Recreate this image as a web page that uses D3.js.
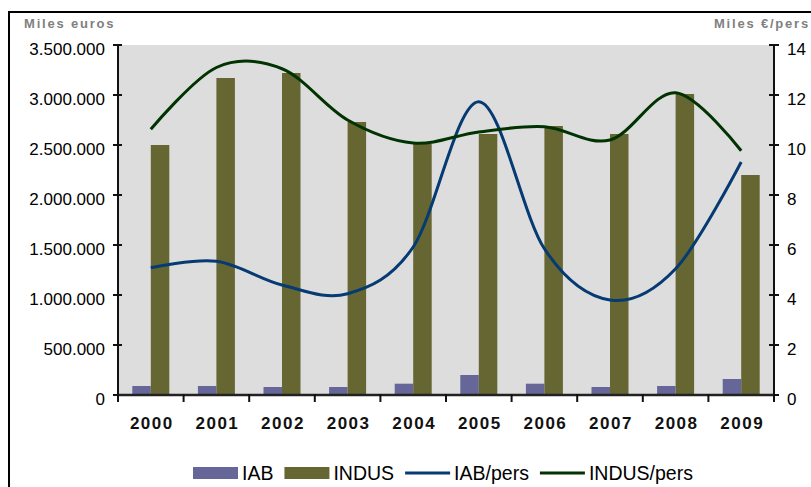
<!DOCTYPE html>
<html>
<head>
<meta charset="utf-8">
<script src="https://cdn.jsdelivr.net/npm/d3@7/dist/d3.min.js"></script>
<style>
  body { margin: 0; background: #fff; }
  svg { display: block; font-family: "Liberation Sans", Arial, sans-serif; }
</style>
</head>
<body>
<div id="chart"></div>
<script>
// data
var years = ["2000", "2001", "2002", "2003", "2004", "2005", "2006", "2007", "2008", "2009"];
var iab = [90000, 90000, 80000, 80000, 113000, 200000, 113000, 80000, 90000, 160000];
var indus = [2500000, 3170000, 3220000, 2730000, 2510000, 2610000, 2690000, 2610000, 3010000, 2200000];
var iabPers = [5.09, 5.35, 4.4, 4.05, 5.92, 11.73, 5.85, 3.8, 5.05, 9.32];
var indusPers = [10.63, 13.1, 13.05, 11.0, 10.08, 10.52, 10.73, 10.2, 12.09, 9.77];
var leftTicks = [0, 500000, 1000000, 1500000, 2000000, 2500000, 3000000, 3500000];
var rightTicks = [0, 2, 4, 6, 8, 10, 12, 14];

var colors = {iab: "#666699", indus: "#666633", iabPers: "#063a72", indusPers: "#003300"};

var W = 811, H = 487;
var margin = {top: 45, right: 37, bottom: 92, left: 118},
    width = W - margin.left - margin.right,
    height = H - margin.top - margin.bottom;

var svg = d3.select("#chart").append("svg")
    .attr("width", W)
    .attr("height", H);

// outer frame (runs off the right/bottom edge)
svg.append("rect")
    .attr("x", 9).attr("y", 12)
    .attr("width", 900).attr("height", 600)
    .attr("fill", "none")
    .attr("stroke", "#000")
    .attr("stroke-width", 2);

var g = svg.append("g")
    .attr("transform", "translate(" + margin.left + "," + margin.top + ")");

g.append("rect")
    .attr("width", width)
    .attr("height", height)
    .attr("fill", "#dddddd");

var x = d3.scaleBand().domain(years).range([0, width]);
var y = d3.scaleLinear().domain([0, 3500000]).range([height, 0]);
var y2 = d3.scaleLinear().domain([0, 14]).range([height, 0]);
var barW = 18.5;

function fmt(v) {
    return d3.format(",")(v).replace(/,/g, ".");
}

// bars
g.selectAll(".bar-iab").data(iab).enter().append("rect")
    .attr("class", "bar-iab")
    .attr("x", function(d, i) { return x(years[i]) + x.bandwidth() / 2 - barW; })
    .attr("width", barW)
    .attr("y", function(d) { return y(d); })
    .attr("height", function(d) { return height - y(d); })
    .attr("fill", colors.iab);

g.selectAll(".bar-indus").data(indus).enter().append("rect")
    .attr("class", "bar-indus")
    .attr("x", function(d, i) { return x(years[i]) + x.bandwidth() / 2; })
    .attr("width", barW)
    .attr("y", function(d) { return y(d); })
    .attr("height", function(d) { return height - y(d); })
    .attr("fill", colors.indus);

// smoothed lines
var line = d3.line()
    .x(function(d, i) { return x(years[i]) + x.bandwidth() / 2; })
    .y(function(d) { return y2(d); })
    .curve(d3.curveCardinal.tension(0));

g.append("path").datum(iabPers)
    .attr("d", line)
    .attr("fill", "none")
    .attr("stroke", colors.iabPers)
    .attr("stroke-width", 3)
    .attr("stroke-linejoin", "round");

g.append("path").datum(indusPers)
    .attr("d", line)
    .attr("fill", "none")
    .attr("stroke", colors.indusPers)
    .attr("stroke-width", 3)
    .attr("stroke-linejoin", "round");

// left axis
var left = g.append("g").attr("class", "axis-left");
left.append("line")
    .attr("x1", 0).attr("x2", 0).attr("y1", 0).attr("y2", height)
    .attr("stroke", "#111").attr("stroke-width", 2);
left.selectAll("line.tick").data(leftTicks).enter().append("line")
    .attr("class", "tick")
    .attr("x1", -5).attr("x2", 4)
    .attr("y1", function(d) { return y(d); })
    .attr("y2", function(d) { return y(d); })
    .attr("stroke", "#111").attr("stroke-width", 2);
left.selectAll("text").data(leftTicks).enter().append("text")
    .attr("x", -13)
    .attr("y", function(d) { return y(d) + 9.5; })
    .attr("text-anchor", "end")
    .attr("font-size", 17)
    .attr("fill", "#000")
    .text(fmt);

// right axis
var right = g.append("g").attr("transform", "translate(" + width + ",0)");
right.append("line")
    .attr("x1", 0).attr("x2", 0).attr("y1", 0).attr("y2", height)
    .attr("stroke", "#111").attr("stroke-width", 2);
right.selectAll("line.tick").data(rightTicks).enter().append("line")
    .attr("class", "tick")
    .attr("x1", -5).attr("x2", 5)
    .attr("y1", function(d) { return y2(d); })
    .attr("y2", function(d) { return y2(d); })
    .attr("stroke", "#111").attr("stroke-width", 2);
right.selectAll("text").data(rightTicks).enter().append("text")
    .attr("x", 13)
    .attr("y", function(d) { return y2(d) + 9.5; })
    .attr("font-size", 17)
    .attr("fill", "#000")
    .text(function(d) { return d; });

// bottom axis
var bottom = g.append("g").attr("transform", "translate(0," + height + ")");
bottom.append("line")
    .attr("x1", 0).attr("x2", width)
    .attr("stroke", "#222").attr("stroke-width", 2.5);
bottom.selectAll("line.tick").data(years.concat(["end"])).enter().append("line")
    .attr("class", "tick")
    .attr("x1", function(d, i) { return i * x.bandwidth(); })
    .attr("x2", function(d, i) { return i * x.bandwidth(); })
    .attr("y1", -1).attr("y2", 7)
    .attr("stroke", "#111").attr("stroke-width", 2);
bottom.selectAll("text").data(years).enter().append("text")
    .attr("x", function(d) { return x(d) + x.bandwidth() / 2 + 1; })
    .attr("y", 34)
    .attr("text-anchor", "middle")
    .attr("font-size", 17)
    .attr("font-weight", "bold")
    .attr("letter-spacing", 1.5)
    .attr("fill", "#111")
    .text(function(d) { return d; });

// axis titles
svg.append("text")
    .attr("x", 24).attr("y", 28)
    .attr("font-size", 13).attr("font-weight", "bold")
    .attr("letter-spacing", 1.8)
    .attr("fill", "#808080")
    .text("Miles euros");

svg.append("text")
    .attr("x", 810).attr("y", 28)
    .attr("text-anchor", "end")
    .attr("font-size", 13).attr("font-weight", "bold")
    .attr("letter-spacing", 1.8)
    .attr("fill", "#808080")
    .text("Miles €/pers");

// legend
var legendItems = [
    {key: "IAB", type: "rect", color: colors.iab},
    {key: "INDUS", type: "rect", color: colors.indus},
    {key: "IAB/pers", type: "line", color: colors.iabPers},
    {key: "INDUS/pers", type: "line", color: colors.indusPers}
];
var legend = svg.append("g").attr("class", "legend");
var lx = 193, ly = 473;
legendItems.forEach(function(d) {
    if (d.type == "rect") {
        legend.append("rect")
            .attr("x", lx).attr("y", ly - 6)
            .attr("width", 45).attr("height", 12)
            .attr("fill", d.color);
    } else {
        legend.append("line")
            .attr("x1", lx).attr("x2", lx + 45)
            .attr("y1", ly).attr("y2", ly)
            .attr("stroke", d.color).attr("stroke-width", 3);
    }
    var t = legend.append("text")
        .attr("x", lx + 49).attr("y", ly + 6.5)
        .attr("font-size", 19.5)
        .attr("fill", "#000")
        .text(d.key);
    lx += 49 + t.node().getComputedTextLength() + 11;
});
</script>
</body>
</html>
